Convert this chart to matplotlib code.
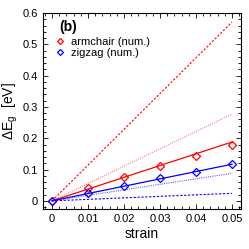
import numpy as np
import matplotlib
matplotlib.use('Agg')
import matplotlib.pyplot as plt
from matplotlib.ticker import MultipleLocator, AutoMinorLocator, FuncFormatter

plt.rcParams['font.family'] = ['Liberation Sans', 'DejaVu Sans']
plt.rcParams['mathtext.fontset'] = 'custom'
plt.rcParams['mathtext.rm'] = 'Liberation Sans'
plt.rcParams['mathtext.it'] = 'Liberation Sans'

# datos
strain = [0, 0.01, 0.02, 0.03, 0.04, 0.05]
arm_num = [0, 0.040, 0.076, 0.111, 0.143, 0.178]
zig_num = [0, 0.0245, 0.047, 0.072, 0.092, 0.117]

strain_fit = [0, 0.05]
arm_fit = [0, 0.188]
zig_fit = [0, 0.117]
arm_upper = [0, 0.571]
arm_mid = [0, 0.277]
zig_mid = [0, 0.088]
zig_low = [0, 0.024]

fig = plt.figure(figsize=(2.49, 2.49), dpi=100)
ax = fig.add_axes([43/249, 1 - 209/249, 198/249, 196/249])

ax.plot(strain_fit, arm_upper, color='red', ls=(0, (2, 1.5)), lw=0.8)
ax.plot(strain_fit, arm_mid, color='#ff8080', ls=(0, (1, 1)), lw=0.8)
ax.plot(strain_fit, arm_fit, color='red', lw=0.9)
ax.plot(strain_fit, zig_mid, color='#6060ff', ls=(0, (1, 1)), lw=0.8)
ax.plot(strain_fit, zig_low, color='blue', ls=(0, (2, 1.5)), lw=0.8)
ax.plot(strain_fit, zig_fit, color='blue', lw=0.9)

ax.plot(strain, arm_num, 'D', ms=4, mfc='none', mec='red', mew=0.9, label='armchair (num.)')
ax.plot(strain, zig_num, 'D', ms=4, mfc='none', mec='blue', mew=0.9, label='zigzag (num.)')

ax.set_xlim(-0.0025, 0.0525)
ax.set_ylim(-0.026, 0.6)
ax.xaxis.set_major_locator(MultipleLocator(0.01))
ax.xaxis.set_minor_locator(AutoMinorLocator(5))
ax.yaxis.set_major_locator(MultipleLocator(0.1))
ax.yaxis.set_minor_locator(AutoMinorLocator(5))
fmt = FuncFormatter(lambda v, p: '0' if abs(v) < 1e-9 else ('%g' % round(v, 4)))
ax.xaxis.set_major_formatter(fmt)
ax.yaxis.set_major_formatter(fmt)
ax.tick_params(which='both', direction='in', top=True, right=True, labelsize=8, width=0.6)
ax.tick_params(which='major', length=3.5)
ax.tick_params(which='minor', length=2)
for s in ax.spines.values():
    s.set_linewidth(0.8)

ax.set_xlabel('strain', fontsize=10, labelpad=2)
ax.set_ylabel(r'$\Delta$E$_{\rm g}$  [eV]', fontsize=10, labelpad=2)
ax.text(0.08, 0.965, '(b)', transform=ax.transAxes, fontsize=10, fontweight='bold', va='top')
ax.legend(loc='upper left', bbox_to_anchor=(0.04, 0.9), frameon=False, fontsize=8,
          handlelength=0.8, handletextpad=0.6, labelspacing=0.1, borderaxespad=0,
          markerscale=0.75)

fig.savefig('out.png', dpi=100)
